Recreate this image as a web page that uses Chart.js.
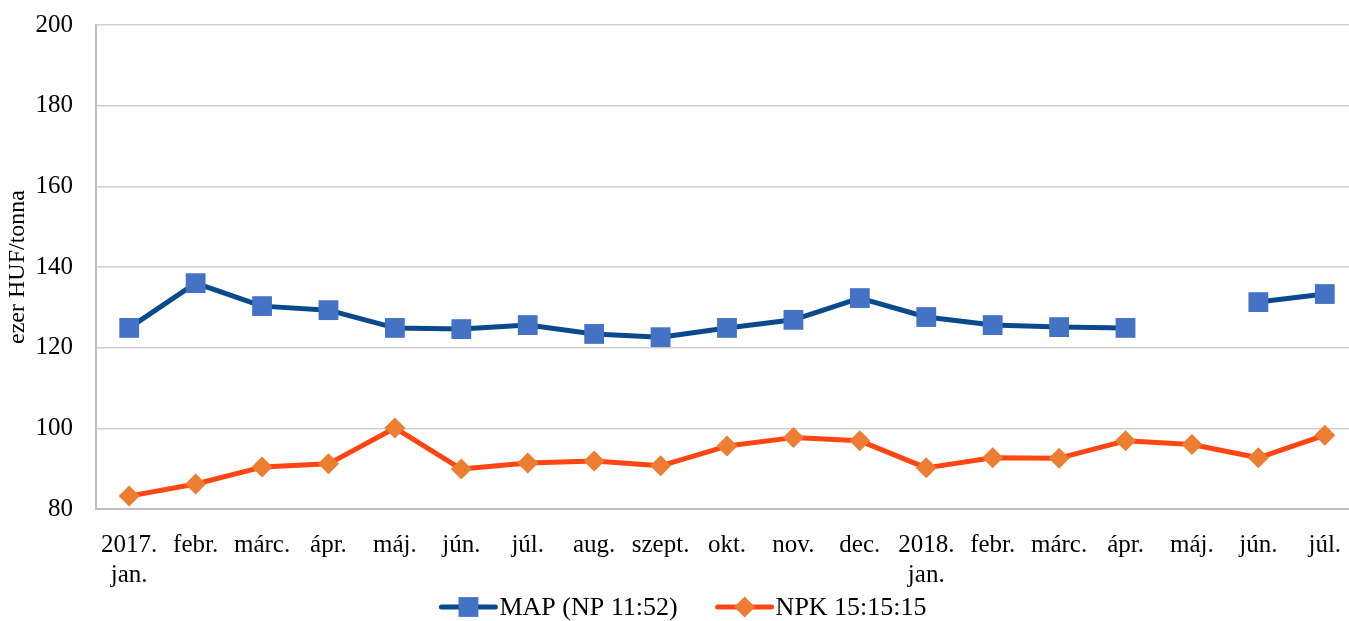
<!DOCTYPE html>
<html><head><meta charset="utf-8">
<script src="https://cdn.jsdelivr.net/npm/chart.js@4/dist/chart.umd.min.js"></script>
<style>html,body{margin:0;padding:0;overflow:hidden;background:#fff}#wrap{width:1372px;height:621px;position:relative}</style>
</head><body><div id="wrap"><canvas id="c" width="1372" height="621" style="width:1372px;height:621px"></canvas></div>
<script>
const categories = [['2017.','jan.'],'febr.','márc.','ápr.','máj.','jún.','júl.','aug.','szept.','okt.','nov.','dec.',['2018.','jan.'],'febr.','márc.','ápr.','máj.','jún.','júl.'];
const mapLabel = 'MAP (NP 11:52)';
const npkLabel = 'NPK 15:15:15';
const mapValues = [124.9,136.0,130.3,129.3,124.9,124.6,125.6,123.4,122.6,124.9,126.9,132.3,127.6,125.6,125.1,124.9,null,131.3,133.3];
const npkValues = [83.2,86.2,90.4,91.2,100.1,89.9,91.4,91.9,90.7,95.6,97.7,96.9,90.2,92.7,92.6,96.9,96.0,92.7,98.3];
const yMin = 80, yMax = 200, yStep = 20;
const yTitle = 'ezer HUF/tonna';

const FONT = "'Liberation Serif', 'Times New Roman', serif";
const MAP_LINE = '#0A4A8C', MAP_PT = '#4472C4';
const NPK_LINE = '#FF4512', NPK_PT = '#ED7D31';

const legendPlugin = {
  id: 'customLegend',
  afterDraw(chart) {
    const ctx = chart.ctx;
    ctx.save();
    ctx.font = '26px ' + FONT;
    ctx.textBaseline = 'middle';
    ctx.textAlign = 'left';
    const items = chart.data.datasets.map(ds => ({
      text: ds.label, line: ds.borderColor, pt: ds.pointBackgroundColor,
      style: ds.pointStyle, r: ds.pointRadius
    }));
    const symW = 58, gapT = 2, gapItem = 38;
    const widths = items.map(it => symW + gapT + ctx.measureText(it.text).width);
    const total = widths.reduce((a, b) => a + b, 0) + gapItem * (items.length - 1);
    let x = 683 - total / 2;
    const y = 607;
    items.forEach((it, i) => {
      ctx.strokeStyle = it.line;
      ctx.lineWidth = 5;
      ctx.lineCap = 'round';
      ctx.beginPath();
      ctx.moveTo(x + 2, y);
      ctx.lineTo(x + symW - 2, y);
      ctx.stroke();
      ctx.fillStyle = it.pt;
      ctx.strokeStyle = it.pt;
      Chart.helpers.drawPoint(ctx, {pointStyle: it.style, radius: it.r, borderWidth: 0, rotation: 0}, x + symW / 2, y);
      ctx.fillStyle = '#000';
      ctx.fillText(it.text, x + symW + gapT, y + 1);
      x += widths[i] + gapItem;
    });
    ctx.restore();
  }
};

new Chart(document.getElementById('c'), {
  type: 'line',
  data: {
    labels: categories,
    datasets: [
      {label: mapLabel, data: mapValues, borderColor: MAP_LINE, borderWidth: 5,
       pointStyle: 'rect', pointRadius: 14, pointBackgroundColor: MAP_PT, pointBorderColor: MAP_PT,
       pointBorderWidth: 0, spanGaps: false, tension: 0, borderCapStyle: 'round', borderJoinStyle: 'round'},
      {label: npkLabel, data: npkValues, borderColor: NPK_LINE, borderWidth: 5,
       pointStyle: 'rectRot', pointRadius: 10.5, pointBackgroundColor: NPK_PT, pointBorderColor: NPK_PT,
       pointBorderWidth: 0, tension: 0, borderCapStyle: 'round', borderJoinStyle: 'round'}
    ]
  },
  options: {
    responsive: false,
    animation: false,
    events: [],
    layout: {padding: {left: 6, top: 25, right: 0, bottom: 31}},
    plugins: {legend: {display: false}, tooltip: {enabled: false}},
    scales: {
      x: {
        offset: true,
        grid: {display: false, drawTicks: false},
        border: {display: true, color: '#BFBFBF', width: 2},
        ticks: {autoSkip: false, maxRotation: 0, minRotation: 0, color: '#000', padding: 21,
                font: {family: FONT, size: 25, lineHeight: 1.2}},
        afterFit(scale) { scale.height = 81; scale.paddingLeft = 0; scale.paddingRight = 0; }
      },
      y: {
        min: yMin, max: yMax,
        grid: {color: '#D0D0D0', lineWidth: 1.5, drawTicks: false},
        border: {display: true, color: '#BFBFBF', width: 2},
        ticks: {stepSize: yStep, color: '#000', padding: 23, font: {family: FONT, size: 25}},
        title: {display: true, text: yTitle, color: '#000', font: {family: FONT, size: 24, lineHeight: 1},
                padding: {top: 0, bottom: 7}},
        afterFit(scale) { scale.width = 90; scale.paddingTop = 0; scale.paddingBottom = 0; }
      }
    }
  },
  plugins: [legendPlugin]
});
</script></body></html>
